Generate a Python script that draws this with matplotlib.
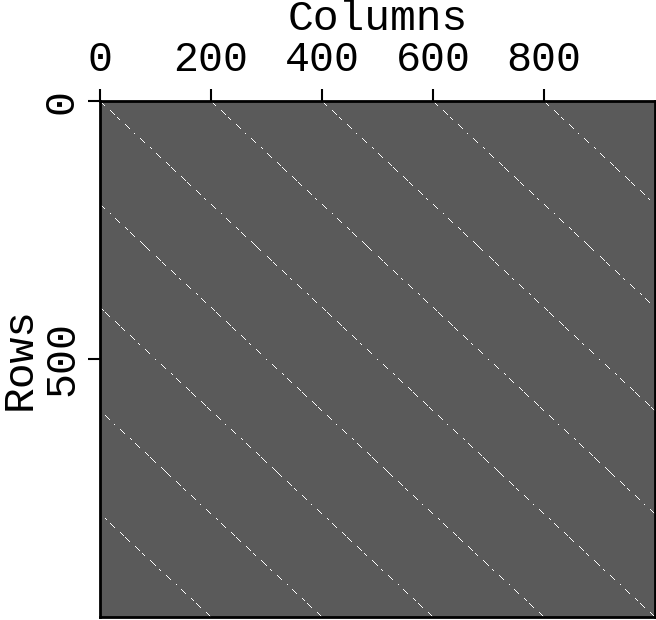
import numpy as np
import matplotlib
matplotlib.use("Agg")
import matplotlib.pyplot as plt
from matplotlib.colors import LinearSegmentedColormap

# matrix size and the diagonals that carry non-zero entries
n_rows = 1000
n_cols = 1000
diag_offsets = [-800, -600, -400, -200, 0, 200, 400, 600, 800]
diag_value = 1.0

col_ticks = [0, 200, 400, 600, 800]
row_ticks = [0, 500]

mat = np.zeros((n_rows, n_cols))
for k in diag_offsets:
    mat += diag_value * np.eye(n_rows, n_cols, k=k)

plt.rcParams['font.family'] = ['Liberation Mono', 'DejaVu Sans Mono']

W, H = 656, 620
ax_l, ax_t, ax_w, ax_h = 100, 101, 555, 516
fig = plt.figure(figsize=(W / 100, H / 100), dpi=100)
ax = fig.add_axes([ax_l / W, 1 - (ax_t + ax_h) / H, ax_w / W, ax_h / H])

cmap = LinearSegmentedColormap.from_list("grey", ["#5a5a5a", "#ffffff"])
ax.imshow(mat, cmap=cmap, vmin=0, vmax=1, interpolation="nearest",
          aspect="auto", extent=(0, n_cols, n_rows, 0))

ax.set_xlim(0, n_cols)
ax.set_ylim(n_rows, 0)

ax.xaxis.tick_top()
ax.xaxis.set_label_position("top")
ax.set_xticks(col_ticks)
ax.set_xticklabels([str(t) for t in col_ticks], fontsize=30)
ax.set_yticks(row_ticks)
ax.set_yticklabels([str(t) for t in row_ticks], fontsize=30, rotation=90, va="center")

ax.tick_params(axis="both", direction="out", length=9, width=1.5, color="black")
ax.tick_params(axis="x", pad=6)
ax.tick_params(axis="y", pad=4)

ax.set_xlabel("Columns", fontsize=31, va="baseline")
ax.xaxis.set_label_coords(0.5, (ax_h + ax_t - 30) / ax_h)
ax.set_ylabel("Rows", fontsize=31, va="baseline", ha="center", rotation_mode="anchor")
ax.yaxis.set_label_coords((31 - ax_l) / ax_w, 0.5)

for sp in ax.spines.values():
    sp.set_linewidth(2)
    sp.set_color("black")

fig.savefig("out.png", dpi=100)
